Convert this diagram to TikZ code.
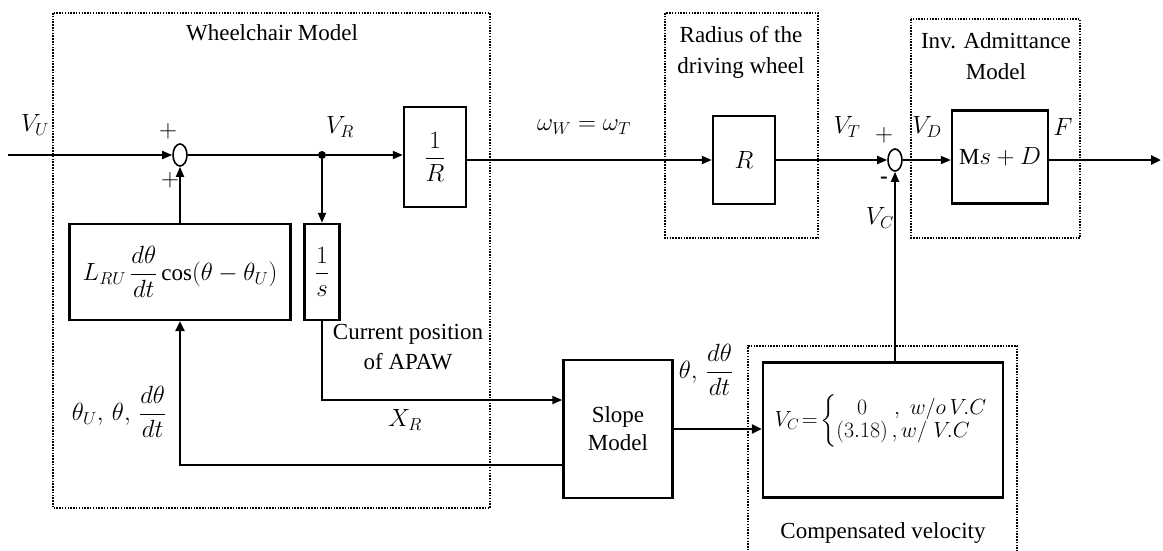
\documentclass[tikz,border=0pt]{standalone}
\usepackage{amsmath}
\usepackage{fontspec}
\setmainfont{Liberation Serif}
\usetikzlibrary{arrows.meta,shapes.geometric,calc}
\begin{document}
\begin{tikzpicture}[x=1pt,y=-1pt,
  font=\fontsize{23}{31}\selectfont,
  blk/.style={draw,line width=2.4pt,inner sep=0pt,align=center},
  sumj/.style={draw,ellipse,line width=1.6pt,minimum width=14pt,minimum height=22pt,inner sep=0pt},
  grp/.style={line width=1.5pt,dash pattern=on 1.5pt off 1.3pt},
  sig/.style={line width=1.8pt,-{Triangle[length=10pt,width=8pt]}},
  sigthick/.style={line width=2.8pt,-{Triangle[length=10pt,width=9pt]}},
  lbl/.style={inner sep=0pt,align=center}]
\useasboundingbox (0,0) rectangle (1163,550);
% groups
\draw[grp] (53,13) rectangle (490,508);
\draw[grp] (665,13) rectangle (818,238);
\draw[grp] (911,19) rectangle (1080,238);
\draw[grp] (748,570) |- (1017,346) -- (1017,570);
\node[lbl] (tWM) at (272,33) {Wheelchair Model};
\node[lbl] (tRD) at (741,52) {Radius of the\\driving wheel};
\node[lbl] (tIA) at (996,56) {Inv. Admittance\\Model};
\node[lbl] (tCV) at (883,533) {Compensated velocity};
% blocks
\node[sumj] (s1) at (180,155) {};
\node[circle,fill,inner sep=0pt,minimum size=8pt] (dot) at (322,155) {};
\node[blk,minimum width=62pt,minimum height=100pt] (invR) at (435,157) {$\dfrac{1}{R}$};
\node[blk,minimum width=62pt,minimum height=88pt] (Rb) at (744,160) {$R$};
\node[sumj] (s2) at (895,160) {};
\node[blk,minimum width=96pt,minimum height=93pt] (msd) at (1000,157) {$\mathrm{M}s+D$};
\node[blk,minimum width=221pt,minimum height=96pt] (Lb) at (180,272) {$L_{RU}\,\dfrac{d\theta}{dt}\cos(\theta-\theta_U)$};
\node[blk,minimum width=35pt,minimum height=96pt] (invs) at (322,272) {$\dfrac{1}{s}$};
\node[blk,minimum width=109pt,minimum height=138pt,font=\fontsize{23}{28}\selectfont] (slope) at (618,429) {Slope\\Model};
\node[blk,minimum width=240pt,minimum height=135pt] (vc) at (883,430) {};
\node[lbl,scale=0.88,transform shape] (vcf) at (881,421) {$V_C\!=\!\left\{\renewcommand{\arraystretch}{0.85}\begin{array}{@{}c@{}l@{}}0&\;,\; w/o\,V.C\\(3.18)&\,,w/\;V.C\end{array}\right.$};
\coordinate (in) at (8,155);
\coordinate (out) at (1161,160);
% connectors
\draw[sig] (in) -- (s1.west);
\draw[line width=1.8pt] (s1.east) -- (dot);
\draw[sig] (dot) -- (dot -| invR.west);
\draw[sig] (invR.east |- Rb) -- (Rb.west);
\draw[sig] (Rb.east) -- (s2.west);
\draw[sig] (s2.east) -- (s2.east -| msd.west);
\draw[sigthick] (msd.east |- out) -- (out);
\draw[sig] (dot) -- (invs.north);
\draw[sig] (Lb.north) -- (s1.south);
\draw[sig] (invs.south) |- ([yshift=29pt]slope.west);
\draw[sigthick] ([yshift=-36pt]slope.west) -| (Lb.south);
\draw[sigthick] (slope.east) -- (slope.east -| vc.west);
\draw[sig] (vc.north -| s2) -- (s2.south);
% labels
\node[lbl] (lVU) at (35,125) {$V_U$};
\node[lbl] (p1) at (168,131) {$+$};
\node[lbl] (p2) at (170,180) {$+$};
\node[lbl] (lVR) at (340,127) {$V_R$};
\node[lbl] (lw) at (584,127) {$\omega_W=\omega_T$};
\node[lbl] (lVT) at (847,127) {$V_T$};
\node[lbl] (p3) at (884,135) {$+$};
\node[lbl] (m3) at (884,180) {\textbf{-}};
\node[lbl] (lVC) at (880,218) {$V_C$};
\node[lbl] (lVD) at (927,127) {$V_D$};
\node[lbl] (lF) at (1063,127) {$F$};
\node[lbl] (lXR) at (405,420) {$X_R$};
\node[lbl,font=\fontsize{23}{30}\selectfont] (lcp) at (408,347) {Current position\\of APAW};
\node[lbl] (lth1) at (119,412) {$\theta_U,\,\theta,\,\dfrac{d\theta}{dt}$};
\node[lbl] (lth2) at (706,370) {$\theta,\,\dfrac{d\theta}{dt}$};
\end{tikzpicture}
\end{document}
